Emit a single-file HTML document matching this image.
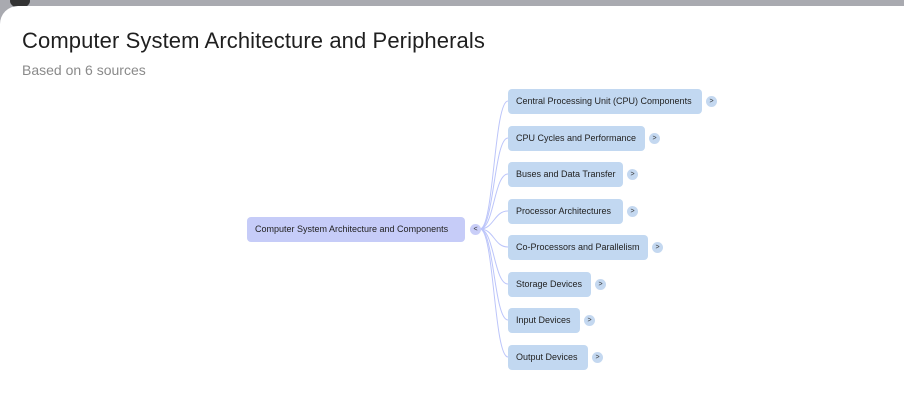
<!DOCTYPE html>
<html><head><style>
body{margin:0;width:904px;height:402px;background:#a9aab0;overflow:hidden;font-family:"Liberation Sans",sans-serif;position:relative}
.card{position:absolute;left:0;top:6px;width:904px;height:400px;background:#fff;border-top-left-radius:18px}
h1{position:absolute;left:22px;top:28px;margin:0;font-size:22px;font-weight:normal;color:#1f1f1f;letter-spacing:0.1px}
.sub{position:absolute;left:22px;top:62px;font-size:14px;color:#8a8a8a}
.n{position:absolute;height:25px;line-height:25px;font-size:9px;color:#222;border-radius:4px;padding-left:8px;box-sizing:border-box;white-space:nowrap}
.c{background:#c2d8f1}
.t{position:absolute;width:11px;height:11px;border-radius:50%;background:#c4d8f0;font-size:7px;line-height:11px;text-align:center;color:#333}
</style></head><body>
<div style="position:absolute;left:10px;top:-6px;width:20px;height:14px;border-radius:50%;background:#333"></div>
<div class="card"></div>
<h1>Computer System Architecture and Peripherals</h1>
<div class="sub">Based on 6 sources</div>
<svg style="position:absolute;left:0;top:0" width="904" height="402">
<g fill="none" stroke="#bcc5fa" stroke-width="1">
<path d="M480 229 C494 229 494 101 508 101"/>
<path d="M480 229 C494 229 494 138 508 138"/>
<path d="M480 229 C494 229 494 174 508 174"/>
<path d="M480 229 C494 229 494 211 508 211"/>
<path d="M480 229 C494 229 494 247 508 247"/>
<path d="M480 229 C494 229 494 284 508 284"/>
<path d="M480 229 C494 229 494 320 508 320"/>
<path d="M480 229 C494 229 494 357 508 357"/>
</g></svg>
<div class="n" style="left:247px;top:217px;width:218px;background:#c6ccf8">Computer System Architecture and Components</div>
<div class="t" style="left:470px;top:224px;background:#c9cef8">&lt;</div>
<div class="n c" style="left:508px;top:89px;width:194px">Central Processing Unit (CPU) Components</div><div class="t" style="left:706px;top:96px">&gt;</div>
<div class="n c" style="left:508px;top:126px;width:137px">CPU Cycles and Performance</div><div class="t" style="left:649px;top:133px">&gt;</div>
<div class="n c" style="left:508px;top:162px;width:115px">Buses and Data Transfer</div><div class="t" style="left:627px;top:169px">&gt;</div>
<div class="n c" style="left:508px;top:199px;width:115px">Processor Architectures</div><div class="t" style="left:627px;top:206px">&gt;</div>
<div class="n c" style="left:508px;top:235px;width:140px">Co-Processors and Parallelism</div><div class="t" style="left:652px;top:242px">&gt;</div>
<div class="n c" style="left:508px;top:272px;width:83px">Storage Devices</div><div class="t" style="left:595px;top:279px">&gt;</div>
<div class="n c" style="left:508px;top:308px;width:72px">Input Devices</div><div class="t" style="left:584px;top:315px">&gt;</div>
<div class="n c" style="left:508px;top:345px;width:80px">Output Devices</div><div class="t" style="left:592px;top:352px">&gt;</div>
</body></html>
